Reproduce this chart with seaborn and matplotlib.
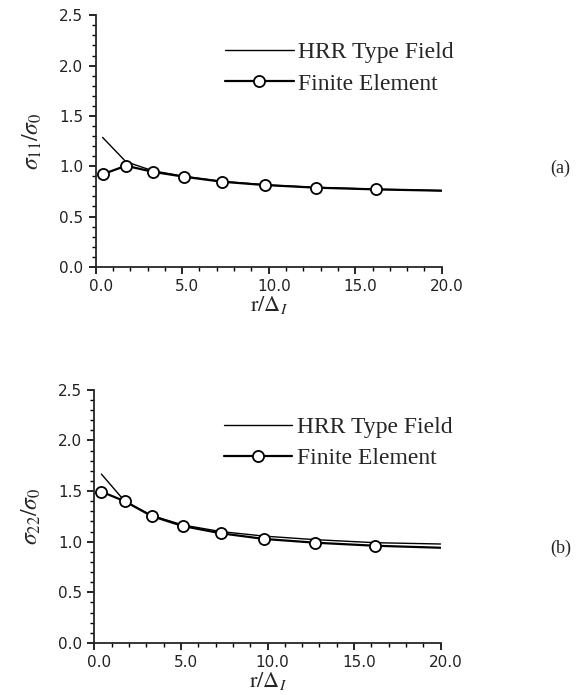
import numpy as np
import pandas as pd
import seaborn as sns
import matplotlib.pyplot as plt
import matplotlib.transforms as mtransforms
from matplotlib.ticker import MultipleLocator, FormatStrFormatter

# r / Delta_I positions
r_pos = [0.4, 1.75, 3.3, 5.1, 7.3, 9.8, 12.75, 16.2, 20.0]

# (a) sigma_11 / sigma_0
s11_hrr = [1.287, 1.045, 0.955, 0.90, 0.85, 0.815, 0.79, 0.772, 0.758]
s11_fe = [0.92, 1.005, 0.945, 0.896, 0.846, 0.813, 0.787, 0.77, 0.757]

# (b) sigma_22 / sigma_0
s22_hrr = [1.668, 1.40, 1.26, 1.165, 1.10, 1.055, 1.02, 0.99, 0.977]
s22_fe = [1.494, 1.40, 1.253, 1.155, 1.083, 1.027, 0.99, 0.96, 0.94]

panels = [
    (s11_hrr, s11_fe, r'$\sigma_{11}/\sigma_0$', '(a)'),
    (s22_hrr, s22_fe, r'$\sigma_{22}/\sigma_0$', '(b)'),
]

sns.set_style('ticks')
plt.rcParams['font.family'] = ['DejaVu Sans']
plt.rcParams['mathtext.fontset'] = 'stix'

fig = plt.figure(figsize=(5.76, 6.95), dpi=100)
ax_boxes = [[0.166, 0.616, 0.601, 0.362],
            [0.164, 0.075, 0.601, 0.364]]
label_y = [0.758, 0.211]

for (hrr, fe, ylab, tag), box, ty in zip(panels, ax_boxes, label_y):
    ax = fig.add_axes(box)
    df = pd.DataFrame({'r': r_pos, 'hrr': hrr, 'fe': fe})
    sns.lineplot(data=df, x='r', y='hrr', ax=ax, color='black', lw=1.0,
                 label='HRR Type Field')
    sns.lineplot(data=df, x='r', y='fe', ax=ax, color='black', lw=1.6,
                 marker='o', markersize=8, markerfacecolor='white',
                 markeredgecolor='black', markeredgewidth=1.3,
                 markevery=list(range(len(r_pos) - 1)),
                 label='Finite Element')
    ax.set_xlim(0, 20)
    ax.set_ylim(0, 2.5)
    sns.despine(ax=ax)
    ax.spines['left'].set_linewidth(1.3)
    ax.spines['bottom'].set_linewidth(1.3)
    ax.xaxis.set_major_locator(MultipleLocator(5))
    ax.xaxis.set_minor_locator(MultipleLocator(1))
    ax.yaxis.set_major_locator(MultipleLocator(0.5))
    ax.yaxis.set_minor_locator(MultipleLocator(0.1))
    ax.xaxis.set_major_formatter(FormatStrFormatter('%.1f'))
    ax.yaxis.set_major_formatter(FormatStrFormatter('%.1f'))
    ax.tick_params(which='major', direction='out', length=5, width=1.2,
                   labelsize=11, pad=4, color='black', labelcolor='#222222')
    ax.tick_params(which='minor', direction='out', length=3, width=1.0,
                   color='black')
    offset = mtransforms.ScaledTranslation(5 / 100, 0, fig.dpi_scale_trans)
    for lbl in ax.get_xticklabels():
        lbl.set_transform(lbl.get_transform() + offset)
    ax.set_xlabel(r'$\mathrm{r}/\Delta_I$', fontsize=16, labelpad=0)
    ax.set_ylabel(ylab, fontsize=17, labelpad=11)
    ax.legend(loc='upper left', bbox_to_anchor=(0.374, 0.895), frameon=False,
              borderpad=0, borderaxespad=0, handlelength=2.9,
              handletextpad=0.2, labelspacing=0.42,
              prop={'family': 'Liberation Serif', 'size': 17})
    fig.text(0.955, ty, tag, fontsize=13, family='Liberation Serif',
             va='center', ha='left')

fig.savefig('out.png', dpi=100)
